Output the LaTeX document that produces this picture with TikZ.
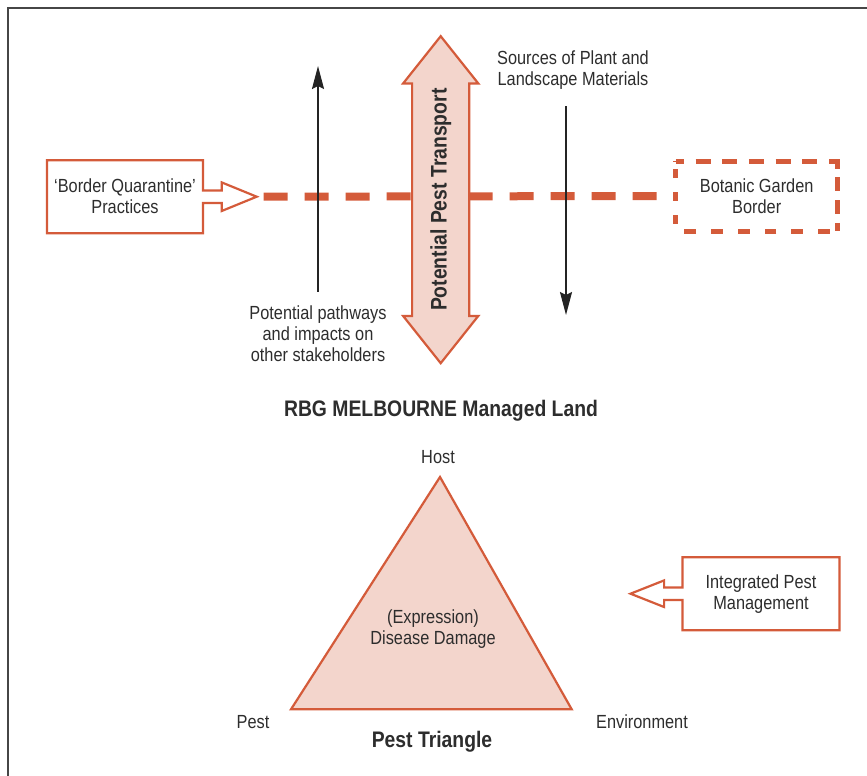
\documentclass[tikz,border=0pt]{standalone}
\usepackage{fontspec}
\setmainfont{Liberation Sans}[FakeStretch=0.86]
\usepackage{tikz}
\usetikzlibrary{positioning, arrows.meta, shapes.arrows}

\definecolor{rbgorange}{RGB}{212,91,58}
\definecolor{rbgpink}{RGB}{243,213,204}
\definecolor{rbgtext}{RGB}{45,45,45}
\definecolor{rbgframe}{RGB}{70,70,70}

\begin{document}
\begin{tikzpicture}[
  x=1pt, y=-1pt,
  lbl/.style={font=\fontsize{19}{21}\selectfont, text=rbgtext, align=center, inner sep=2pt},
  title/.style={font=\fontsize{22.5}{26}\selectfont\bfseries, text=rbgtext, inner sep=2pt},
  tab/.style={draw=rbgorange, line width=2.2pt},
  border/.style={draw=rbgorange, line width=8pt, dash pattern=on 24pt off 17pt},
  dashedge/.style={draw=rbgorange, line width=5pt,
    dash pattern=on 8pt off 11.7pt on 15pt off 11.7pt on 15pt off 11.7pt on 15pt off 11.7pt on 15pt off 11.7pt
      on 15pt off 11.7pt on 16pt off 8.8pt on 14pt off 8.8pt on 14pt off 8.8pt on 8pt},
  transport/.style={double arrow, draw=rbgorange, fill=rbgpink, line width=2.2pt, double arrow head extend=9pt,
    double arrow tip angle=77, minimum height=327pt, minimum width=73pt, inner ysep=17pt, inner xsep=0pt,
    font=\fontsize{22.5}{26}\selectfont\bfseries, text=rbgtext},
  flow/.style={-{Stealth[length=23pt, width=12pt, inset=3pt]}, line width=2pt, rbgtext!80!black},
  triangle/.style={draw=rbgorange, fill=rbgpink, line width=2.2pt}
]
\useasboundingbox (0,0) rectangle (867,776);
\draw[rbgframe, line width=2pt] (8,776) -- (8,8) -- (867,8);

% --- border quarantine ---
\node[lbl, minimum width=156pt, minimum height=73pt, outer sep=0pt] (bq) at (125,196.7) {‘Border Quarantine’\\Practices};
\draw[tab] (bq.north west) -- (bq.north east) -- ([yshift=6.3pt]bq.east) -- ++(18.7,0) -- ++(0,-8)
  -- ++(35,14.3) coordinate (bqtip) -- ++(-35,14.3) -- ++(0,-8) -- ([yshift=-6.3pt]bq.east)
  -- (bq.south east) -- (bq.south west) -- cycle;
\node[lbl, minimum width=161.7pt, minimum height=70pt, outer sep=0pt] (bgb) at (756.7,196) {Botanic Garden\\Border};
\draw[dashedge] (bgb.north west) -- (bgb.north east) -- (bgb.south east) -- (bgb.south west) -- cycle;
\draw[border] ([xshift=7pt]bqtip) -- ([xshift=-19pt]bgb.west);

% --- pathways ---
\node[transport, rotate=90] (ppt) at (440.7,199.7) {Potential Pest Transport};
\node[lbl] (ppath) at (318,334) {Potential pathways\\and impacts on\\other stakeholders};
\coordinate (ppathtop) at (318,66);
\draw[flow, shorten <=12pt] (ppath.north) -- (ppathtop);
\node[lbl] (src) at (573,70.5) {Sources of Plant and\\Landscape Materials};
\coordinate (srcend) at (566,315);
\draw[flow, shorten <=14pt] (src.south -| srcend) -- (srcend);

\node[title] (rbg) at (441,411) {RBG MELBOURNE Managed Land};

% --- pest triangle ---
\coordinate (hostpt) at (440,477);
\coordinate (pestpt) at (291,709.3);
\coordinate (envpt) at (571.7,709.3);
\draw[triangle] (hostpt) -- (envpt) -- (pestpt) -- cycle;
\node[lbl] (host) at (438,457) {Host};
\node[lbl] (pest) at (253,722) {Pest};
\node[lbl] (env) at (642,722) {Environment};
\node[lbl] (damage) at (433,629) {(Expression)\\Disease Damage};
\node[title] (ptri) at (432,742) {Pest Triangle};

\node[lbl, minimum width=157pt, minimum height=73pt, outer sep=0pt] (ipm) at (761,593.7) {Integrated Pest\\Management};
\draw[tab] (ipm.north east) -- (ipm.north west) -- ([yshift=6.3pt]ipm.west) -- ++(-18.4,0) -- ++(0,-7)
  -- ++(-33.6,13.3) coordinate (ipmtip) -- ++(33.6,13.3) -- ++(0,-7) -- ([yshift=-6.3pt]ipm.west)
  -- (ipm.south west) -- (ipm.south east) -- cycle;
\end{tikzpicture}
\end{document}
